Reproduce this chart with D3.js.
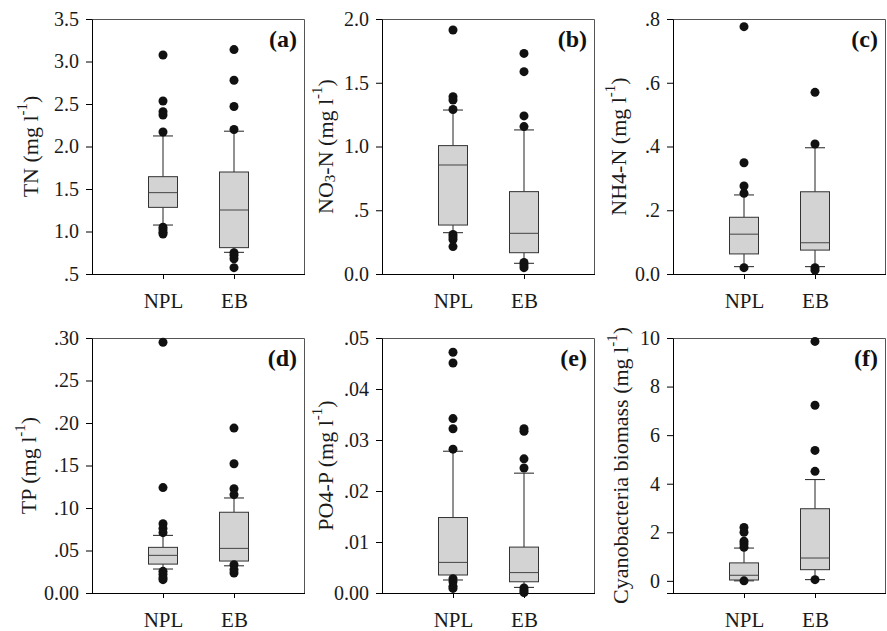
<!DOCTYPE html>
<html>
<head>
<meta charset="utf-8">
<script src="https://cdn.jsdelivr.net/npm/d3@7"></script>
<style>
  body { margin: 0; background: #fff; }
  svg { display: block; }
</style>
</head>
<body>
<div id="chart"></div>
<script>
  const categories = ["NPL", "EB"];
  const panelLetters = ["(a)", "(b)", "(c)", "(d)", "(e)", "(f)"];

  // box stats per group: [lower whisker, Q1, median, Q3, upper whisker]
  const tnBox = [[1.076, 1.284, 1.457, 1.645, 2.124], [0.755, 0.81, 1.253, 1.70, 2.18]];
  const tnOut = [[3.076, 2.535, 2.41, 2.37, 2.17, 1.05, 1.02, 0.99, 0.97],
                 [3.14, 2.78, 2.47, 2.20, 0.75, 0.72, 0.68, 0.575]];
  const tnTicks = [0.5, 1, 1.5, 2, 2.5, 3, 3.5];
  const tnLabels = [".5", "1.0", "1.5", "2.0", "2.5", "3.0", "3.5"];

  const no3Box = [[0.324, 0.384, 0.855, 1.007, 1.286], [0.084, 0.167, 0.319, 0.646, 1.13]];
  const no3Out = [[1.914, 1.39, 1.365, 1.29, 0.31, 0.29, 0.27, 0.215],
                  [1.73, 1.587, 1.24, 1.156, 0.09, 0.07, 0.05]];
  const no3Ticks = [0, 0.5, 1, 1.5, 2];
  const no3Labels = ["0.0", ".5", "1.0", "1.5", "2.0"];

  const nh4Box = [[0.023, 0.063, 0.125, 0.178, 0.248], [0.023, 0.075, 0.098, 0.258, 0.396]];
  const nh4Out = [[0.776, 0.349, 0.276, 0.253, 0.02],
                  [0.57, 0.408, 0.02, 0.012]];
  const nh4Ticks = [0, 0.2, 0.4, 0.6, 0.8];
  const nh4Labels = ["0.0", ".2", ".4", ".6", ".8"];

  const tpBox = [[0.0282, 0.034, 0.0443, 0.0537, 0.0678], [0.032, 0.0376, 0.0525, 0.095, 0.1118]];
  const tpOut = [[0.295, 0.124, 0.0816, 0.076, 0.071, 0.0255, 0.022, 0.018, 0.0157],
                 [0.194, 0.152, 0.1227, 0.1157, 0.0333, 0.0275, 0.0235]];
  const tpTicks = [0, 0.05, 0.1, 0.15, 0.2, 0.25, 0.3];
  const tpLabels = ["0.00", ".05", ".10", ".15", ".20", ".25", ".30"];

  const po4Box = [[0.00255, 0.00353, 0.006, 0.0148, 0.0278], [0.0011, 0.0022, 0.004, 0.009, 0.0235]];
  const po4Out = [[0.0472, 0.0451, 0.0342, 0.0322, 0.0282, 0.0028, 0.0022, 0.0013, 0.0009],
                  [0.0322, 0.0317, 0.0263, 0.0245, 0.001, 0.0005, 0.0001]];
  const po4Ticks = [0, 0.01, 0.02, 0.03, 0.04, 0.05];
  const po4Labels = ["0.00", ".01", ".02", ".03", ".04", ".05"];

  const cyanoBox = [[0.0, 0.035, 0.23, 0.74, 1.35], [0.05, 0.46, 0.94, 2.97, 4.17]];
  const cyanoOut = [[2.2, 2.0, 1.63, 1.52, 1.38, 0.0],
                    [9.86, 7.23, 5.37, 4.51, 0.05]];
  const cyanoTicks = [0, 2, 4, 6, 8, 10];
  const cyanoLabels = ["0", "2", "4", "6", "8", "10"];

  // axis titles: [text, kind] pieces
  const titles = [
    [["TN (mg l", ""], ["-1", "sup"], [")", ""]],
    [["NO", ""], ["3", "sub"], ["-N (mg l", ""], ["-1", "sup"], [")", ""]],
    [["NH4-N (mg l", ""], ["-1", "sup"], [")", ""]],
    [["TP (mg l", ""], ["-1", "sup"], [")", ""]],
    [["PO4-P (mg l", ""], ["-1", "sup"], [")", ""]],
    [["Cyanobacteria biomass (mg l", ""], ["-1", "sup"], [")", ""]]
  ];

  const panels = [
    { box: tnBox, out: tnOut, ticks: tnTicks, labels: tnLabels, domain: [0.5, 3.5] },
    { box: no3Box, out: no3Out, ticks: no3Ticks, labels: no3Labels, domain: [0, 2] },
    { box: nh4Box, out: nh4Out, ticks: nh4Ticks, labels: nh4Labels, domain: [0, 0.8] },
    { box: tpBox, out: tpOut, ticks: tpTicks, labels: tpLabels, domain: [0, 0.3] },
    { box: po4Box, out: po4Out, ticks: po4Ticks, labels: po4Labels, domain: [0, 0.05] },
    { box: cyanoBox, out: cyanoOut, ticks: cyanoTicks, labels: cyanoLabels, domain: [-0.5, 10] }
  ];

  const W = 887, H = 631;
  const colLeft = [92, 382, 673];
  const rowTop = [19, 338];
  const pw = 213, ph = 255;
  const titleOffset = [62, 57, 55, 64, 57, 53];
  const font = "'Liberation Serif', 'Times New Roman', Times, serif";

  const svg = d3.select("#chart").append("svg")
    .attr("width", W)
    .attr("height", H)
    .style("font-family", font);

  panels.forEach((p, i) => {
    const g = svg.append("g")
      .attr("transform", `translate(${colLeft[i % 3]},${rowTop[Math.floor(i / 3)]})`);

    const y = d3.scaleLinear().domain(p.domain).range([ph, 0]);
    const x = d3.scalePoint().domain(categories).range([0, pw]).padding(1);

    // frame (top + right)
    g.append("path")
      .attr("d", `M0,0.5H${pw - 0.5}V${ph}`)
      .attr("fill", "none")
      .attr("stroke", "#555")
      .attr("stroke-width", 1);

    const yAxis = g.append("g")
      .call(d3.axisLeft(y)
        .tickValues(p.ticks)
        .tickFormat((d, k) => p.labels[k])
        .tickSize(6)
        .tickSizeOuter(0)
        .tickPadding(7));
    yAxis.select(".domain").attr("stroke", "#000");
    yAxis.selectAll("text").attr("font-size", 20).attr("font-family", font).attr("fill", "#1a1a1a");

    const xAxis = g.append("g")
      .attr("transform", `translate(0,${ph})`)
      .call(d3.axisBottom(x).tickSize(5).tickSizeOuter(0).tickPadding(14));
    xAxis.select(".domain").attr("d", `M-6,0.5H${pw}`);
    xAxis.selectAll("text").attr("font-size", 21).attr("font-family", font).attr("fill", "#1a1a1a");

    categories.forEach((c, k) => {
      const [lo, q1, med, q3, hi] = p.box[k];
      const cx = x(c);
      const bw = 29, cw = 20;
      // whiskers
      g.append("line").attr("x1", cx).attr("x2", cx).attr("y1", y(q3)).attr("y2", y(hi))
        .attr("stroke", "#222");
      g.append("line").attr("x1", cx).attr("x2", cx).attr("y1", y(q1)).attr("y2", y(lo))
        .attr("stroke", "#222");
      [lo, hi].forEach(v => {
        g.append("line").attr("x1", cx - cw / 2).attr("x2", cx + cw / 2)
          .attr("y1", y(v)).attr("y2", y(v)).attr("stroke", "#222");
      });
      g.append("rect")
        .attr("x", cx - bw / 2).attr("width", bw)
        .attr("y", y(q3)).attr("height", y(q1) - y(q3))
        .attr("fill", "#d3d3d3").attr("stroke", "#333");
      g.append("line").attr("x1", cx - bw / 2).attr("x2", cx + bw / 2)
        .attr("y1", y(med)).attr("y2", y(med)).attr("stroke", "#444");

      g.selectAll(null).data(p.out[k]).enter().append("circle")
        .attr("cx", cx).attr("cy", d => y(d)).attr("r", 4.5)
        .attr("fill", "#111");
    });

    // panel letter
    g.append("text")
      .attr("x", pw - 8).attr("y", 28)
      .attr("text-anchor", "end")
      .attr("font-size", 24).attr("font-weight", "bold")
      .attr("fill", "#111")
      .text(panelLetters[i]);

    // y title
    const t = g.append("text")
      .attr("transform", `translate(${-titleOffset[i]},${ph / 2}) rotate(-90)`)
      .attr("text-anchor", "middle")
      .attr("dominant-baseline", "central")
      .attr("font-size", 22)
      .attr("fill", "#1a1a1a");
    let shift = 0;
    titles[i].forEach(([txt, kind]) => {
      const target = kind === "sup" ? -8 : kind === "sub" ? 5 : 0;
      const s = t.append("tspan").attr("dy", target - shift).text(txt);
      if (kind) s.attr("font-size", 15);
      shift = target;
    });
  });
</script>
</body>
</html>
